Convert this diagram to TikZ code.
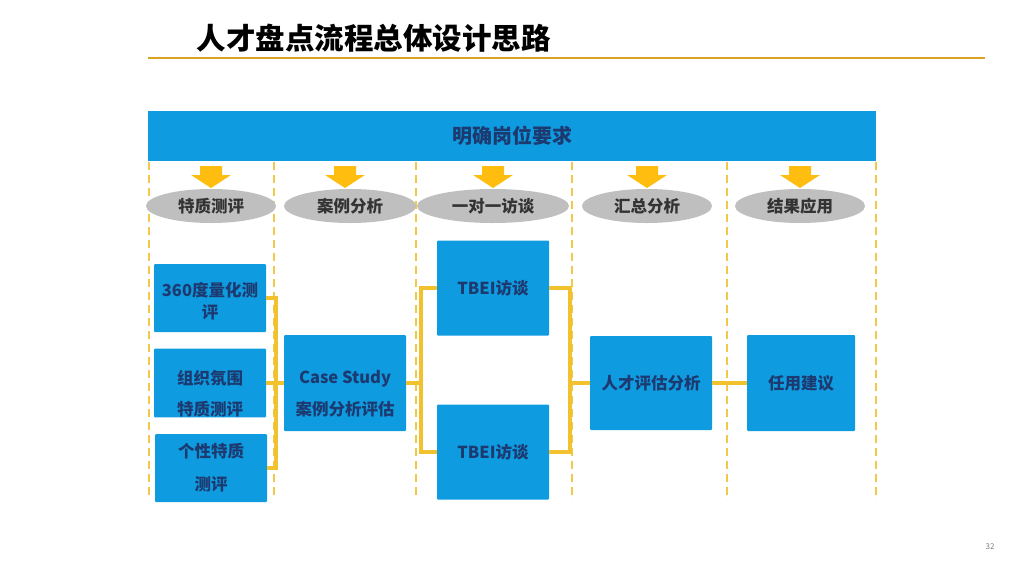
\documentclass[tikz,border=0pt]{standalone}
\usepackage{fontspec}
\setmainfont{Noto Sans CJK SC}
\usetikzlibrary{shapes.geometric}
\definecolor{boxblue}{HTML}{0E9BDF}
\definecolor{navy}{HTML}{1D3A70}
\definecolor{gold}{HTML}{D9A521}
\definecolor{dashy}{HTML}{F2C84B}
\definecolor{linky}{HTML}{F2C12E}
\definecolor{arrowy}{HTML}{FFBE0F}
\definecolor{ovalgrey}{HTML}{BFBFBF}
\definecolor{ovaltext}{HTML}{333333}
\tikzset{
  bluebox/.style={draw=none, fill=boxblue, rounded corners=1pt, text=navy, font=\bfseries\fontsize{16.5}{22}\selectfont, align=center, inner sep=0pt},
  oval/.style={ellipse, fill=ovalgrey, text=ovaltext, font=\bfseries\fontsize{16.5}{18}\selectfont, minimum height=34pt, inner sep=0pt},
  lane/.style={dashy, line width=1.5pt, dash pattern=on 8pt off 5pt},
  link/.style={linky, line width=3.2pt},
  downarrow/.pic={\fill[arrowy] (-11,0) -- (11,0) -- (11,9) -- (20,9) -- (0,22) -- (-20,9) -- (-11,9) -- cycle;}
}
\begin{document}
\begin{tikzpicture}[x=1pt,y=-1pt]
\useasboundingbox[fill=white] (0,0) rectangle (1024,576);
% title
\node[anchor=west, font=\bfseries\fontsize{29.5}{32}\selectfont] (title) at (193,38) {人才盘点流程总体设计思路};
\draw[gold, line width=2pt] (148,58) -- (985,58);
% header bar
\node[fill=boxblue, minimum width=728pt, minimum height=50pt, inner sep=0pt, text=navy, font=\bfseries\fontsize{20}{22}\selectfont] (head) at (512,136) {明确岗位要求};
% lanes
\foreach \x in {149,274,416,572,727,876} \draw[lane] (\x,162) -- (\x,500);
% arrows
\foreach \x in {211,345,493,647,800} \pic at (\x,166) {downarrow};
% ovals
\node[oval, minimum width=130pt] (o1) at (211,206) {特质测评};
\node[oval, minimum width=132pt] (o2) at (350,206) {案例分析};
\node[oval, minimum width=152pt] (o3) at (493,206) {一对一访谈};
\node[oval, minimum width=130pt] (o4) at (647,206) {汇总分析};
\node[oval, minimum width=130pt] (o5) at (800,206) {结果应用};
% boxes
\node[bluebox, minimum width=112pt, minimum height=68pt] (b1) at (210,298) {\rule{0pt}{20pt}360度量化测\\评};
\node[bluebox, minimum width=112pt, minimum height=68pt, font=\bfseries\fontsize{16.5}{31}\selectfont] (b2) at (210,383) {\rule{0pt}{36pt}组织氛围\\特质测评};
\node[bluebox, minimum width=112pt, minimum height=68pt, font=\bfseries\fontsize{16.5}{33}\selectfont] (b3) at (211,468) {个性特质\\测评};
\node[bluebox, minimum width=122pt, minimum height=96pt, font=\bfseries\fontsize{16.5}{32}\selectfont] (cs) at (345,383) {\rule{0pt}{34pt}Case Study\\案例分析评估};
\node[bluebox, minimum width=112pt, minimum height=95pt] (t1) at (493,288) {TBEI访谈};
\node[bluebox, minimum width=112pt, minimum height=95pt] (t2) at (493,452) {TBEI访谈};
\node[bluebox, minimum width=122pt, minimum height=94pt] (ra) at (651,383) {人才评估分析};
\node[bluebox, minimum width=108pt, minimum height=96pt] (ry) at (801,383) {任用建议};
% connectors
\coordinate (j1) at (276,383);
\coordinate (j2) at (421,383);
\coordinate (j3) at (570,383);
\draw[link] (b1.east) -| (j1);
\draw[link] (b3.east) -| (j1);
\draw[link] (b2.east) -- (cs.west);
\draw[link] (cs.east) -- (j2);
\draw[link] (j2) |- (t1.west);
\draw[link] (j2) |- (t2.west);
\draw[link] (t1.east) -| (j3);
\draw[link] (t2.east) -| (j3);
\draw[link] (j3) -- (ra.west);
\draw[link] (ra.east) -- (ry.west);
% page number
\node[text=gray, font=\fontsize{8}{10}\selectfont] (pg) at (990,547) {32};
\end{tikzpicture}
\end{document}
